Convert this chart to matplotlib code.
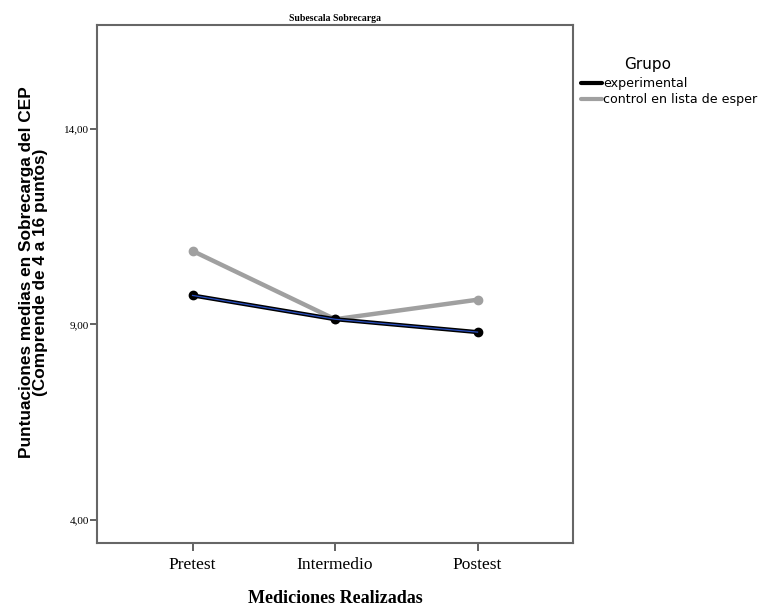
import matplotlib
matplotlib.use("Agg")
import matplotlib.pyplot as plt
from matplotlib.lines import Line2D
import numpy as np

mediciones = ["Pretest", "Intermedio", "Postest"]
experimental = [9.74, 9.13, 8.80]
control = [10.88, 9.13, 9.63]
# the reference cuts the second group name at the picture's right edge
grupos = ["experimental", "control en lista de esper"]
y_ticks = [4, 9, 14]
y_ticklabels = ["4,00", "9,00", "14,00"]

fig = plt.figure(figsize=(7.58, 6.05), dpi=100)
ax = fig.add_axes([0.128, 0.1025, 0.628, 0.8565])

x = np.arange(len(mediciones))

# control en lista de espera (grey)
ax.plot(x, control, color="#a0a0a0", linewidth=3.2, marker="o", markersize=6,
        solid_capstyle="round", zorder=2)
# experimental: black with a thin blue core
ax.plot(x, experimental, color="black", linewidth=3.0, marker="o", markersize=6,
        zorder=3)
ax.plot(x, experimental, color="#2a4fbf", linewidth=0.9, zorder=4)

ax.set_xlim(-0.67, 2.67)
ax.set_ylim(3.4, 16.67)
ax.set_xticks(x)
ax.set_xticklabels(mediciones, family="Liberation Serif", fontsize=12.5)
ax.set_yticks(y_ticks)
ax.set_yticklabels(y_ticklabels, family="Liberation Serif", fontsize=8)
ax.tick_params(axis="x", length=6, width=1.3, color="#555555", pad=4)
ax.tick_params(axis="y", length=5, width=1.3, color="#555555", pad=1)

for spine in ax.spines.values():
    spine.set_color("#666666")
    spine.set_linewidth(1.5)

ax.set_title("Subescala Sobrecarga", family="Liberation Serif", fontweight="bold",
             fontsize=7, pad=3)
ax.set_xlabel("Mediciones Realizadas", family="Liberation Serif", fontweight="bold",
              fontsize=13, labelpad=12)
ax.set_ylabel("Puntuaciones medias en Sobrecarga del CEP\n(Comprende de 4 a 16 puntos)",
              family="Liberation Sans", fontweight="bold", fontsize=12.4,
              linespacing=0.9)
ax.yaxis.set_label_coords(-0.103, 0.523)

# legend title placed on its own, as in the reference
fig.text(0.854, 0.894, "Grupo", family="DejaVu Sans", fontsize=11,
         ha="center", va="center")
leg_handles = [Line2D([], [], color="black", linewidth=3, solid_capstyle="round"),
               Line2D([], [], color="#a0a0a0", linewidth=3, solid_capstyle="round")]
leg = fig.legend(leg_handles, grupos,
                 loc="upper left", bbox_to_anchor=(0.767, 0.872), frameon=False,
                 handlelength=1.6, handletextpad=0.1, labelspacing=0.2,
                 borderaxespad=0, borderpad=0,
                 prop={"family": "DejaVu Sans", "size": 9.1})

fig.savefig("out.png", dpi=100)
